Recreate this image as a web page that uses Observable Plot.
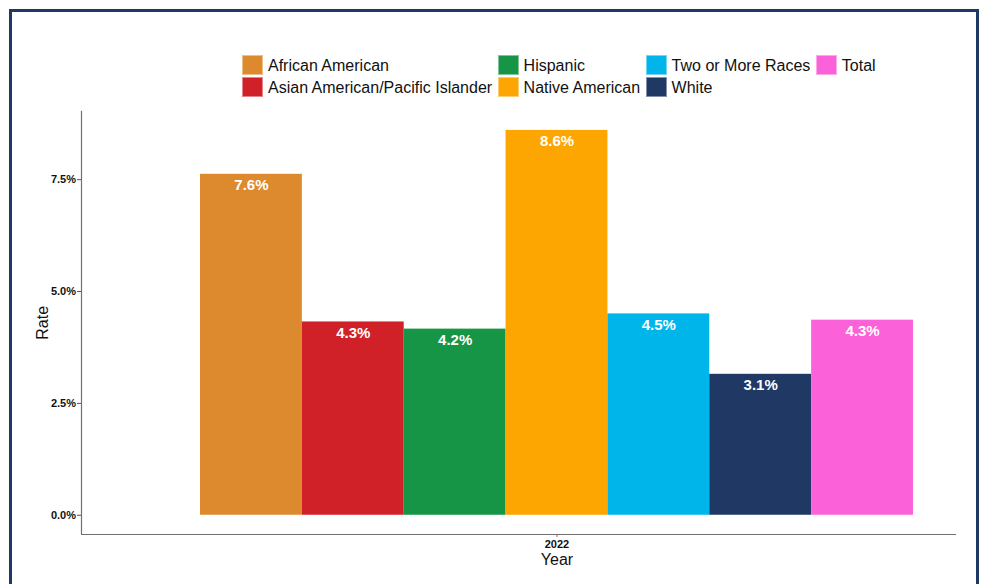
<!DOCTYPE html>
<html><head><meta charset="utf-8">
<script src="https://cdn.jsdelivr.net/npm/d3@7"></script>
<script src="https://cdn.jsdelivr.net/npm/@observablehq/plot@0.6"></script>
<style>
body{margin:0;background:#fff;font-family:"Liberation Sans",Arial,sans-serif;}
#wrap{position:relative;width:987px;height:584px;overflow:hidden;background:#fff;}
#border{position:absolute;left:9px;top:9px;width:970px;height:640px;box-sizing:border-box;border:3px solid #1F3864;}
#legend{position:absolute;left:242px;top:54px;display:grid;grid-template-rows:22px 22px;grid-auto-flow:column;column-gap:5.5px;font-size:16px;color:#111;}
.item{display:flex;align-items:center;height:22px;white-space:nowrap;}
.item span{position:relative;top:1px;}
.sw{width:21px;height:20px;margin-right:5px;box-sizing:border-box;border:1px solid rgba(255,255,255,.45);}
#chart{position:absolute;left:0;top:100px;}
</style></head>
<body><div id="wrap"><div id="border"></div><div id="legend"></div><div id="chart"></div></div>
<script>
const year = 2022;
const categories = ["African American", "Asian American/Pacific Islander", "Hispanic", "Native American", "Two or More Races", "White", "Total"];
const values = [7.62, 4.32, 4.16, 8.60, 4.50, 3.15, 4.36];
const labels = ["7.6%", "4.3%", "4.2%", "8.6%", "4.5%", "3.1%", "4.3%"];
const colors = ["#DD8A2F", "#D12128", "#169547", "#FDA602", "#00B5EA", "#1F3864", "#FB62D9"];
const yTicks = [0, 2.5, 5, 7.5];
const xTicks = [year];

const groupWidth = 0.9;
const barW = groupWidth / categories.length;
const data = categories.map((c, i) => ({
  category: c, value: values[i], label: labels[i], year,
  x1: year - groupWidth / 2 + i * barW,
  x2: year - groupWidth / 2 + (i + 1) * barW
}));

const yMax = d3.max(values);
const yDomain = [-0.05 * yMax, 1.05 * yMax];
const xDomain = [year - 0.6002, year + 0.5043];

// legend (column-filled, two rows)
const legend = d3.select("#legend");
categories.forEach((c, i) => {
  const it = legend.append("div").attr("class", "item");
  it.append("div").attr("class", "sw").style("background", colors[i]);
  it.append("span").text(c);
});

const font = '"Liberation Sans", Arial, sans-serif';
const chart = Plot.plot({
  width: 987,
  height: 484,
  marginTop: 10.7,
  marginBottom: 50,
  marginLeft: 81,
  marginRight: 31,
  style: {fontFamily: font, background: "transparent", color: "#111"},
  x: {type: "linear", domain: xDomain},
  y: {domain: yDomain},
  color: {domain: categories, range: colors},
  marks: [
    Plot.rectY(data, {x1: "x1", x2: "x2", y1: 0, y2: "value", fill: "category", insetLeft: 0, insetRight: 0}),
    Plot.text(data, {x: d => (d.x1 + d.x2) / 2, y: "value", text: "label", dy: 11, fill: "white", fontWeight: "bold", fontSize: 15}),
    Plot.ruleY([yDomain[0]], {stroke: "#707070", strokeWidth: 1.2}),
    Plot.ruleX([xDomain[0]], {stroke: "#707070", strokeWidth: 1.2}),
    Plot.axisY({ticks: yTicks, tickFormat: d => d.toFixed(1) + "%", tickSize: 4, tickPadding: 1.5, fontSize: 11, fontWeight: "bold", label: null, stroke: "#555", color: "#111"}),
    Plot.axisX({ticks: xTicks, tickFormat: d => String(d), tickSize: 3, tickPadding: 3, fontSize: 11, fontWeight: "bold", label: null, stroke: "#777"}),
    Plot.text(["Rate"], {frameAnchor: "left", rotate: -90, dx: -39, textAnchor: "middle", lineAnchor: "middle", fontSize: 16, fill: "#111"}),
    Plot.text(xTicks, {x: d => d, frameAnchor: "bottom", text: () => "Year", dy: 25, lineAnchor: "middle", fontSize: 16, fill: "#111"})
  ]
});
document.getElementById("chart").appendChild(chart);
</script>
</body></html>
